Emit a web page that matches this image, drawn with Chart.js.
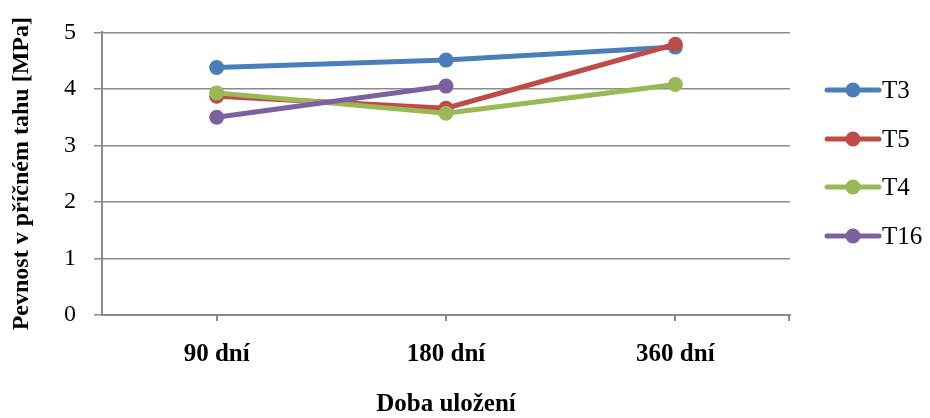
<!DOCTYPE html>
<html>
<head>
<meta charset="utf-8">
<script src="https://cdn.jsdelivr.net/npm/chart.js@4/dist/chart.umd.min.js"></script>
<style>
  html, body { margin: 0; padding: 0; background: #fff; }
  #wrap { width: 930px; height: 418px; }
</style>
</head>
<body>
<div id="wrap"><canvas id="c" width="930" height="418"></canvas></div>
<script>
// Storage time categories and tensile strength per mix [MPa]
const categories = ['90 dní', '180 dní', '360 dní'];
const seriesNames = ['T3', 'T5', 'T4', 'T16'];
const t3 = [4.38, 4.51, 4.74];
const t5 = [3.87, 3.66, 4.79];
const t4 = [3.93, 3.57, 4.08];
const t16 = [3.50, 4.05, null];
const yTicks = [0, 1, 2, 3, 4, 5];

const colors = ['#4a7ebb', '#be4b48', '#98b954', '#7d60a0'];
const values = [t3, t5, t4, t16];
const SERIF = '"Liberation Serif", "Times New Roman", serif';
const GRID = '#8a8a8a';

// Legend: line with a round marker, one row per series
const sideLegend = {
  id: 'sideLegend',
  afterDraw(chart) {
    const ctx = chart.ctx;
    const rows = [90, 139, 187, 236];
    ctx.save();
    chart.data.datasets.forEach((ds, i) => {
      const y = rows[i];
      ctx.strokeStyle = ds.borderColor;
      ctx.lineWidth = 5;
      ctx.lineCap = 'round';
      ctx.beginPath();
      ctx.moveTo(827, y);
      ctx.lineTo(879, y);
      ctx.stroke();
      ctx.fillStyle = ds.backgroundColor;
      ctx.beginPath();
      ctx.arc(853, y, 7.5, 0, Math.PI * 2);
      ctx.fill();
      ctx.fillStyle = '#000';
      ctx.font = '25px ' + SERIF;
      ctx.textBaseline = 'middle';
      ctx.textAlign = 'left';
      ctx.fillText(ds.label, 882, y + 1);
    });
    ctx.restore();
  }
};

// Closing tick mark at the right end of the category axis
const axisEndTick = {
  id: 'axisEndTick',
  afterDraw(chart) {
    const x = chart.scales.x;
    const ctx = chart.ctx;
    ctx.save();
    ctx.strokeStyle = GRID;
    ctx.lineWidth = 2;
    ctx.beginPath();
    ctx.moveTo(x.right - 1, x.top);
    ctx.lineTo(x.right - 1, x.top + 6);
    ctx.stroke();
    ctx.restore();
  }
};

const datasets = seriesNames.map((name, i) => ({
  label: name,
  data: values[i],
  borderColor: colors[i],
  backgroundColor: colors[i],
  borderWidth: 5,
  pointRadius: 7.5,
  pointHoverRadius: 7.5,
  pointBorderWidth: 0,
  tension: 0,
  order: seriesNames.length - i
}));

new Chart(document.getElementById('c'), {
  type: 'line',
  data: { labels: categories, datasets },
  plugins: [sideLegend, axisEndTick],
  options: {
    responsive: false,
    animation: false,
    devicePixelRatio: 1,
    layout: { padding: { top: 32, right: 140, left: 0, bottom: 0 } },
    plugins: { legend: { display: false }, tooltip: { enabled: false } },
    scales: {
      x: {
        type: 'category',
        offset: true,
        grid: { offset: false, drawOnChartArea: false, color: GRID, lineWidth: 2, tickLength: 6 },
        border: { color: GRID, width: 2 },
        ticks: { color: '#000', padding: 19, font: { family: SERIF, size: 25, weight: 'bold' } },
        title: {
          display: true, text: 'Doba uložení', color: '#000',
          font: { family: SERIF, size: 25, weight: 'bold', lineHeight: 1.04 },
          padding: { top: 0, bottom: 0 }
        },
        afterFit(scale) { scale.height = 103; }
      },
      y: {
        min: 0, max: 5,
        afterBuildTicks(scale) { scale.ticks = yTicks.map(v => ({ value: v })); },
        grid: { color: GRID, lineWidth: 1.5, tickLength: 8 },
        border: { color: GRID, width: 2 },
        ticks: { color: '#000', padding: 18, font: { family: SERIF, size: 24 } },
        title: {
          display: true, text: 'Pevnost v příčném tahu [MPa]', color: '#000',
          font: { family: SERIF, size: 24, weight: 'bold' },
          padding: { top: 7, bottom: 0 }
        },
        afterFit(scale) { scale.width = 102; }
      }
    }
  }
});
</script>
</body>
</html>
